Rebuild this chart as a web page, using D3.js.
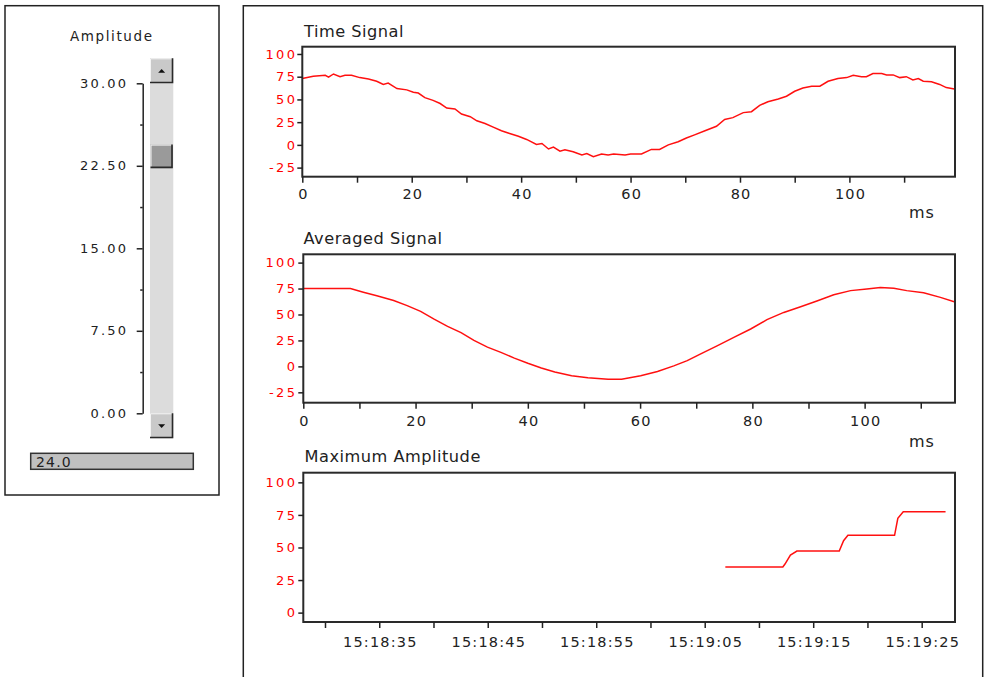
<!DOCTYPE html>
<html><head><meta charset="utf-8">
<script src="https://cdn.jsdelivr.net/npm/d3@7"></script>
<style>body{margin:0;background:#fff}svg{display:block}</style>
</head><body>
<svg id="c" width="988" height="677"></svg>
<script>
// ---------------- DATA ----------------
const timeSignalMs = [0,2,4.2,4.8,5.7,6.9,7.8,9,10.5,12.1,13.6,14.8,15.7,17.3,19.1,20.3,21.2,22.4,23.9,25.2,26.4,27.9,29.1,30.7,31.9,33.4,34.9,36.4,37.9,39.5,41,42.8,43.8,45,45.9,47.1,48,49.5,51.1,52,53.2,54.7,55.9,56.9,59,60,62,63.8,65.3,66.9,68.7,70.2,71.7,73.6,75.7,77.2,78.7,80.6,82.1,83.6,85.1,87,88.5,90,91.5,93.1,94.6,96.1,97.9,99.5,100.7,102.2,103.1,104.3,105.9,106.8,108,109.2,110.4,111.6,112.6,113.5,115,116.5,117.7,119.2];
const timeSignalValues = [73,75.5,76.5,74.5,78,75,76.5,76.5,74,72.5,70,66.5,68,62,60.5,58,57,52,49,45.5,40.5,39.5,34,31,26.5,23.5,19.5,15.5,12.5,9.5,6,0.5,1.5,-4.5,-2.5,-7,-5.5,-7.5,-11,-9.5,-13,-10,-11,-10,-11,-10,-10,-5,-5,0,3.5,7.5,11,15.5,20.5,28,30,35.5,36.5,43.5,47.5,50.5,53.5,59,62.5,64.5,64.5,70,73,74,76.5,75,75,78.5,78.5,77,77,74,75,71.5,73,70,69.5,66.5,63,61.5];

const averagedMs = [0,8.4,10.7,13.1,16.1,18.5,20.9,23.3,25.7,28.1,30.4,32.8,35.2,37.6,40,42.4,44.8,47.8,50.7,54.3,56.7,60.1,63.1,66,68.4,70.8,73.8,76.7,79.7,82.6,85.6,88.6,91.5,94.5,97.5,100.4,102.8,105.2,107.5,110.5,113.5,116.1];
const averagedValues = [75,75,71.5,68,63.5,58.5,53,45.5,38.5,32.5,25,18.5,13.5,8,3,-1.5,-5.5,-9,-11,-12.3,-12.3,-9,-5,0.5,5.5,12,20,28,36,45,52,57.5,63,69,73,74.5,76,75.3,73,71,66.5,62];

const maxAmpTimes = ["15:19:06.900","15:19:12.200","15:19:12.400","15:19:12.900","15:19:13.500","15:19:17.400","15:19:17.800","15:19:18.200","15:19:22.500","15:19:22.800","15:19:23.300","15:19:27.200"];
const maxAmpValues = [35,35,37.3,44.2,47.3,47.3,55.2,59.3,59.3,72.4,77.5,77.5];

const signalYTicks = [-25,0,25,50,75,100];
const maxYTicks = [0,25,50,75,100];
const msTicks = [0,10,20,30,40,50,60,70,80,90,100,110];
const timeTicks = ["15:18:30","15:18:35","15:18:40","15:18:45","15:18:50","15:18:55","15:19:00","15:19:05","15:19:10","15:19:15","15:19:20","15:19:25"];
const timeDomain = ["15:18:28.000","15:19:28.070"];

const sliderTicks = [0,7.5,15,22.5,30];
const sliderMinorTicks = [3.75,11.25,18.75,26.25];
const sliderValue = 24.0;

// ---------------- DRAW ----------------
const FONT = "'DejaVu Sans', Verdana, sans-serif";
const svg = d3.select("#c");
const INK = "#222";
const RED = "#ff0000";

// Outer panels
svg.append("rect").attr("x",5).attr("y",5.7).attr("width",214).attr("height",489.3)
  .attr("fill","none").attr("stroke",INK).attr("stroke-width",1.5);
svg.append("path").attr("d","M243.3,690V5.7H982.7V690")
  .attr("fill","none").attr("stroke",INK).attr("stroke-width",1.5);

// ---- Slider panel ----
svg.append("text").attr("x",111).attr("y",40.5).attr("text-anchor","middle")
  .attr("font-family",FONT).attr("font-size",13.5).attr("letter-spacing",1.6).attr("dx",0.8)
  .attr("fill",INK).text("Amplitude");

const yS = d3.scaleLinear().domain([0,30]).range([413.3,83.3]);
const sAx = svg.append("g").attr("transform","translate(142.7,0)")
  .call(d3.axisLeft(yS).tickValues(sliderTicks).tickSize(6).tickSizeOuter(0).tickFormat(d3.format(".2f")));
sAx.select(".domain").attr("stroke",INK).attr("stroke-width",1.5);
sAx.selectAll(".tick line").attr("stroke",INK).attr("stroke-width",1.5);
sAx.selectAll(".tick text").attr("x",-14.5).attr("fill",INK)
  .style("font-family",FONT).style("font-size","13px").attr("letter-spacing",2.2);
const sMin = svg.append("g").attr("transform","translate(142.7,0)")
  .call(d3.axisLeft(yS).tickValues(sliderMinorTicks).tickSize(2.5).tickFormat(""));
sMin.select(".domain").remove();
sMin.selectAll(".tick line").attr("stroke",INK).attr("stroke-width",1.5);

// scrollbar
const sbX = 150, sbW = 23.3, btnH = 25;
const trackTop = yS(30), trackBot = yS(0);
function bevelBox(x,y,w,h,fill){
  svg.append("rect").attr("x",x).attr("y",y).attr("width",w).attr("height",h).attr("fill",fill);
  svg.append("path").attr("d",`M${x+0.5},${y+h}V${y+0.5}H${x+w}`).attr("fill","none").attr("stroke","#f4f4f4").attr("stroke-width",1);
  svg.append("path").attr("d",`M${x},${y+h-0.8}H${x+w-0.8}V${y}`).attr("fill","none").attr("stroke","#2a2a2a").attr("stroke-width",1.6);
}
svg.append("rect").attr("x",sbX).attr("y",trackTop).attr("width",sbW).attr("height",trackBot-trackTop).attr("fill","#dcdcdc");
bevelBox(sbX, trackTop-btnH, sbW, btnH, "#c9c9c9");
bevelBox(sbX, trackBot, sbW, btnH, "#c9c9c9");
const cx = sbX + sbW/2;
svg.append("path").attr("d",`M${cx-3.5},${trackTop-btnH/2+2}L${cx+3.5},${trackTop-btnH/2+2}L${cx},${trackTop-btnH/2-1.8}Z`).attr("fill","#111");
svg.append("path").attr("d",`M${cx-3.5},${trackBot+btnH/2-1.5}L${cx+3.5},${trackBot+btnH/2-1.5}L${cx},${trackBot+btnH/2+2.3}Z`).attr("fill","#111");
const thumbH = 23.6;
const thumbTop = trackTop + (yS(sliderValue)-trackTop)/(trackBot-trackTop)*(trackBot-trackTop-thumbH);
bevelBox(sbX+0.5, thumbTop, sbW-1, thumbH, "#9a9a9a");

// value box
svg.append("rect").attr("x",30.7).attr("y",453.3).attr("width",162.6).attr("height",16)
  .attr("fill","#c0c0c0").attr("stroke","#333").attr("stroke-width",1.5);
svg.append("text").attr("x",36).attr("y",466.5).attr("font-family",FONT).attr("font-size",14)
  .attr("letter-spacing",1.2).attr("fill",INK).text(sliderValue.toFixed(1));

// ---- Chart panels ----
function panel(cfg){
  const g = svg.append("g");
  const x = cfg.x, y = cfg.y;
  g.append("text").attr("x",cfg.titleX).attr("y",cfg.titleY).attr("font-family",FONT)
    .attr("font-size",16.2).attr("letter-spacing",0.5).attr("fill",INK).text(cfg.title);
  g.append("path").datum(d3.zip(cfg.xs,cfg.ys))
    .attr("d",d3.line().x(d=>x(d[0])).y(d=>y(d[1])))
    .attr("fill","none").attr("stroke","#ff1010").attr("stroke-width",1.5);
  g.append("rect").attr("x",cfg.left).attr("y",cfg.top).attr("width",cfg.right-cfg.left)
    .attr("height",cfg.bottom-cfg.top).attr("fill","none").attr("stroke","#2a2a2a").attr("stroke-width",2);
  const ya = g.append("g").attr("transform",`translate(${cfg.left},0)`)
    .call(d3.axisLeft(y).tickValues(cfg.yTicks).tickSize(5).tickSizeOuter(0).tickFormat(d=>String(d)));
  ya.select(".domain").remove();
  ya.selectAll(".tick line").attr("stroke",INK).attr("stroke-width",1.5);
  ya.selectAll(".tick text").attr("x",-(cfg.left-295)+2.4).attr("fill",RED)
    .style("font-family",FONT).style("font-size","13px").attr("letter-spacing",2.4);
  const xa = g.append("g").attr("transform",`translate(0,${cfg.bottom})`)
    .call(d3.axisBottom(x).tickValues(cfg.xTicks).tickSize(6).tickSizeOuter(0).tickFormat(cfg.xFormat));
  xa.select(".domain").remove();
  xa.selectAll(".tick line").attr("stroke",INK).attr("stroke-width",1.5);
  xa.selectAll(".tick text").attr("y",cfg.labelBase).attr("dy",0).attr("dx",0.6).attr("fill",INK)
    .style("font-family",FONT).style("font-size","14.5px").attr("letter-spacing",1.2);
  if (cfg.unitY) {
    g.append("text").attr("x",909).attr("y",cfg.unitY).attr("font-family",FONT).attr("font-size",16)
      .attr("letter-spacing",1).attr("fill",INK).text("ms");
  }
}

panel({
  title:"Time Signal", titleX:304, titleY:37.3,
  left:302.3, right:955, top:46.7, bottom:176.7,
  x:d3.scaleLinear().domain([0,119.3]).range([302.3,955]),
  y:d3.scaleLinear().domain([-35,108]).range([176.7,46.7]),
  xs:timeSignalMs, ys:timeSignalValues, yTicks:signalYTicks,
  xTicks:msTicks, xFormat:d=> d%20===0 ? d : "", labelBase:22.6, unitY:218.3
});
panel({
  title:"Averaged Signal", titleX:303.5, titleY:244,
  left:303.3, right:955, top:254.3, bottom:402.7,
  x:d3.scaleLinear().domain([0,116.1]).range([303.3,955]),
  y:d3.scaleLinear().domain([-35,108]).range([402.7,254.3]),
  xs:averagedMs, ys:averagedValues, yTicks:signalYTicks,
  xTicks:msTicks, xFormat:d=> d%20===0 ? d : "", labelBase:23, unitY:446.7
});
const parseT = d3.timeParse("%H:%M:%S.%L");
const parseS = d3.timeParse("%H:%M:%S");
const fmtS = d3.timeFormat("%H:%M:%S");
panel({
  title:"Maximum Amplitude", titleX:304.5, titleY:461.7,
  left:303.3, right:955, top:472.7, bottom:622,
  x:d3.scaleTime().domain(timeDomain.map(parseT)).range([303.3,955]),
  y:d3.scaleLinear().domain([-7.2,107.4]).range([622,472.7]),
  xs:maxAmpTimes.map(parseT), ys:maxAmpValues, yTicks:maxYTicks,
  xTicks:timeTicks.map(parseS), xFormat:d=> d.getSeconds()%10===5 ? fmtS(d) : "", labelBase:24.7
});
</script>
</body></html>
